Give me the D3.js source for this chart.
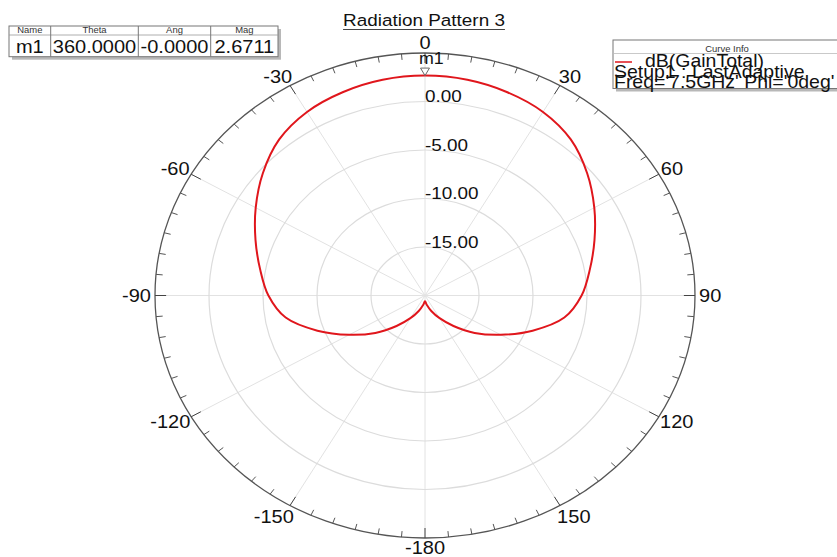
<!DOCTYPE html>
<html>
<head>
<meta charset="utf-8">
<script src="https://cdn.jsdelivr.net/npm/d3@7"></script>
<style>
html, body { margin:0; padding:0; background:#fff; overflow:hidden; }
text { font-family:"Liberation Sans", Arial, sans-serif; fill:#111; }
</style>
</head>
<body>
<svg id="chart" width="837" height="557"></svg>
<script>
// pattern data, theta in degrees (0 at top, clockwise), gain in dB
const thetaDeg = [0,10,20,30,40,50,60,70,80,90,100,110,120,130,140,150,160,170,
                  180,190,200,210,220,230,240,250,260,270,280,290,300,310,320,330,340,350];
const gainDb = [2.67,2.58,2.3,1.85,1.0,-0.4,-1.9,-3.3,-4.5,-5.5,-6.9,-9.4,-11.9,-14.0,-15.9,-17.3,-18.3,-19.0,
                -19.4,-19.0,-18.3,-17.3,-15.9,-14.0,-11.9,-9.4,-6.9,-5.5,-4.5,-3.3,-1.9,-0.4,1.0,1.85,2.3,2.58];

const ringTicks = [0, -5, -10, -15];
const ringLabels = ["0.00", "-5.00", "-10.00", "-15.00"];
const angleTicks = [0, 30, 60, 90, 120, 150, 180, 210, 240, 270, 300, 330];
const angleLabels = ["0", "30", "60", "90", "120", "150", "-180", "-150", "-120", "-90", "-60", "-30"];

const markerHeaders = ["Name", "Theta", "Ang", "Mag"];
const markerValues = ["m1", "360.0000", "-0.0000", "2.6711"];
const markerTheta = 360;
const markerMag = 2.6711;

const legendTitle = "Curve Info";
const legendLines = ["dB(GainTotal)", "Setup1 : LastAdaptive", "Freq='7.5GHz' Phi='0deg'"];
const chartTitle = "Radiation Pattern 3";

// layout
const cx = 425, cy = 295.5, R = 242.5;
const sx = 1.1134;   // the picture is stretched horizontally
const curveColor = "#e0161c";

const svg = d3.select("#chart");

const r = d3.scaleLinear().domain([-20, 5]).range([0, R]);
const ang = d3.scaleLinear().domain([0, 360]).range([0, 2 * Math.PI]);

// stretched text helper
function stext(parent, x, y, str, size, anchor) {
  const g = parent.append("g").attr("transform", `translate(${x},${y}) scale(${sx},1)`);
  const t = g.append("text")
    .attr("font-size", size)
    .attr("text-anchor", anchor || "start")
    .text(str);
  return t;
}

const plot = svg.append("g").attr("transform", `translate(${cx},${cy}) scale(${sx},1)`);

// spokes
plot.selectAll(".spoke").data(d3.range(0, 360, 30)).join("line")
  .attr("class", "spoke")
  .attr("x1", 0).attr("y1", 0)
  .attr("x2", d => R * Math.sin(ang(d)))
  .attr("y2", d => -R * Math.cos(ang(d)))
  .attr("stroke", "#e2e2e2")
  .attr("stroke-width", 1)
  .attr("vector-effect", "non-scaling-stroke");

// rings
plot.selectAll(".ring").data(ringTicks).join("circle")
  .attr("class", "ring")
  .attr("r", d => r(d))
  .attr("fill", "none")
  .attr("stroke", "#dcdcdc")
  .attr("stroke-width", 1.2)
  .attr("vector-effect", "non-scaling-stroke");

// outer circle
plot.append("circle")
  .attr("r", r(5))
  .attr("fill", "none")
  .attr("stroke", "#555")
  .attr("stroke-width", 1.3)
  .attr("vector-effect", "non-scaling-stroke");

// ticks every 5 deg
plot.selectAll(".tick").data(d3.range(0, 360, 5)).join("line")
  .attr("class", "tick")
  .attr("x1", d => R * Math.sin(ang(d)))
  .attr("y1", d => -R * Math.cos(ang(d)))
  .attr("x2", d => (R - (d % 30 === 0 ? 10 : 6)) * Math.sin(ang(d)))
  .attr("y2", d => -(R - (d % 30 === 0 ? 10 : 6)) * Math.cos(ang(d)))
  .attr("stroke", d => d % 30 === 0 ? "#444" : "#555")
  .attr("stroke-width", 1)
  .attr("vector-effect", "non-scaling-stroke");

// the pattern curve
const line = d3.lineRadial()
  .angle((d, i) => ang(thetaDeg[i]))
  .radius(d => r(d))
  .curve(d3.curveCatmullRomClosed.alpha(0.5));

plot.append("path")
  .datum(gainDb)
  .attr("d", line)
  .attr("fill", "none")
  .attr("stroke", curveColor)
  .attr("stroke-width", 2)
  .attr("vector-effect", "non-scaling-stroke");

// marker m1
const mr = r(markerMag);
const ma = ang(markerTheta % 360);
const mx = mr * Math.sin(ma), my = -mr * Math.cos(ma);
plot.append("path")
  .attr("d", `M${mx},${my} L${mx - 4},${my - 7.5} L${mx + 4},${my - 7.5} Z`)
  .attr("fill", "#fff")
  .attr("stroke", "#666")
  .attr("stroke-width", 1)
  .attr("vector-effect", "non-scaling-stroke");
stext(svg, cx - 6, cy + my - 12, "m1", 16, "start");

// ring labels
ringTicks.forEach((v, i) => {
  stext(svg, cx, cy - r(v) + 0.5, ringLabels[i], 17, "start");
});

// angle labels
angleTicks.forEach((a, i) => {
  const th = ang(a);
  const s = Math.sin(th), c = Math.cos(th);
  const t = stext(svg, 0, 0, angleLabels[i], 18, "middle");
  const w = t.node().getComputedTextLength() * sx;
  const gap = 4, h = 12.8;
  const hs = Math.abs(c) > 0.7 ? Math.sign(s) * Math.sqrt(Math.abs(s)) : s;
  const px = cx + sx * R * s + gap * s + (w / 2) * hs;
  const extra = (Math.abs(c) > 0.7 && c < 0 && Math.abs(s) > 0.1) ? 2 : 0;
  const py = Math.min(cy - R * c - gap * c - (h / 2) * c + extra, 548);
  d3.select(t.node().parentNode).attr("transform", `translate(${px},${py + h / 2}) scale(${sx},1)`);
});

// title
const title = stext(svg, 424, 26, chartTitle, 17, "middle");
const tw = title.node().getComputedTextLength() * sx;
svg.append("line")
  .attr("x1", 424 - tw / 2).attr("x2", 424 + tw / 2)
  .attr("y1", 29.5).attr("y2", 29.5)
  .attr("stroke", "#444").attr("stroke-width", 1.2);

// marker table
const colX = [9, 50.7, 138.3, 210.7, 278];
const tTop = 26, tHead = 35, tBot = 56.7;
svg.append("rect")
  .attr("x", colX[0] + 3).attr("y", tTop + 3)
  .attr("width", colX[4] - colX[0]).attr("height", tBot - tTop)
  .attr("fill", "#b8b8b8");
svg.append("rect")
  .attr("x", colX[0]).attr("y", tTop)
  .attr("width", colX[4] - colX[0]).attr("height", tBot - tTop)
  .attr("fill", "#fff").attr("stroke", "#777").attr("stroke-width", 1);
svg.append("line")
  .attr("x1", colX[0]).attr("x2", colX[4]).attr("y1", tHead).attr("y2", tHead)
  .attr("stroke", "#999").attr("stroke-width", 0.8);
colX.slice(1, 4).forEach(x => {
  svg.append("line").attr("x1", x).attr("x2", x).attr("y1", tTop).attr("y2", tBot)
    .attr("stroke", "#777").attr("stroke-width", 1);
});
markerHeaders.forEach((h, i) => {
  const mid = (colX[i] + colX[i + 1]) / 2;
  stext(svg, mid, 33.3, h, 8.5, "middle").style("fill", "#333");
  stext(svg, mid, 53.3, markerValues[i], 18, "middle");
});

// legend box
const lx = 613, ly = 40, lw = 230, lh = 48.5;
svg.append("rect")
  .attr("x", lx + 3).attr("y", ly + 3).attr("width", lw).attr("height", lh)
  .attr("fill", "#b8b8b8");
svg.append("rect")
  .attr("x", lx).attr("y", ly).attr("width", lw).attr("height", lh)
  .attr("fill", "#fff").attr("stroke", "#777").attr("stroke-width", 1);
svg.append("line")
  .attr("x1", lx).attr("x2", lx + lw).attr("y1", 53.5).attr("y2", 53.5)
  .attr("stroke", "#bbb").attr("stroke-width", 0.8);
stext(svg, lx + lw / 2 - 1, 51.5, legendTitle, 8.5, "middle").style("fill", "#333");
svg.append("line")
  .attr("x1", 615).attr("x2", 632).attr("y1", 62).attr("y2", 62)
  .attr("stroke", curveColor).attr("stroke-width", 1.5);
stext(svg, 645, 66.7, legendLines[0], 17.5, "start");
stext(svg, 614, 77.5, legendLines[1], 17.5, "start");
stext(svg, 614, 87.5, legendLines[2], 17.5, "start");
</script>
</body>
</html>
